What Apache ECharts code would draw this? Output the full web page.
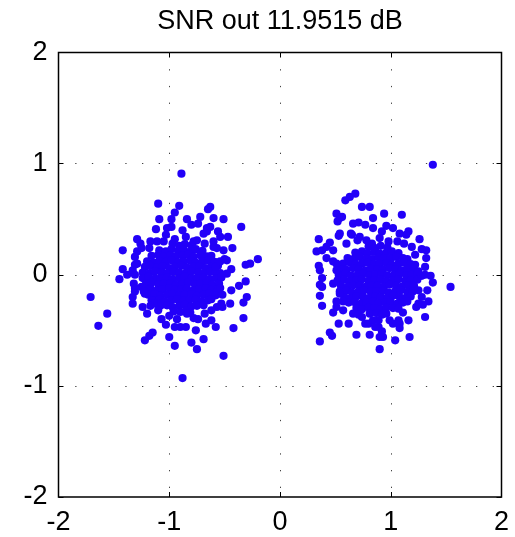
<!DOCTYPE html>
<html>
<head>
<meta charset="utf-8">
<script src="https://cdn.jsdelivr.net/npm/echarts@6/dist/echarts.min.js"></script>
<style>
  html, body { margin: 0; padding: 0; background: #fff; }
  #chart { width: 515px; height: 537px; }
</style>
</head>
<body>
<div id="chart"></div>
<script>
// Received constellation after equalisation: two symbol clouds around -1 and +1.
const titleText = 'SNR out 11.9515 dB';
const xTicks = [-2, -1, 0, 1, 2];
const yTicks = [-2, -1, 0, 1, 2];

// Dense centre of the "-1" cloud
const leftCore = [
  [-0.97,0.28],[-0.91,0.26],[-0.86,0.275],[-0.80,0.265],
  [-1.09,0.22],[-1.03,0.21],[-0.98,0.23],[-0.92,0.215],[-0.87,0.225],[-0.81,0.21],[-0.76,0.23],[-0.70,0.215],
  [-1.16,0.17],[-1.10,0.18],[-1.05,0.16],[-0.99,0.175],[-0.94,0.165],[-0.88,0.17],[-0.83,0.18],[-0.78,0.16],[-0.72,0.175],[-0.66,0.165],[-0.62,0.17],
  [-1.20,0.12],[-1.14,0.11],[-1.09,0.125],[-1.03,0.115],[-0.98,0.13],[-0.92,0.11],[-0.87,0.12],[-0.81,0.125],[-0.76,0.11],[-0.70,0.12],[-0.65,0.13],[-0.59,0.115],
  [-1.22,0.07],[-1.17,0.08],[-1.11,0.065],[-1.06,0.075],[-1.00,0.06],[-0.95,0.07],[-0.89,0.08],[-0.84,0.065],[-0.78,0.07],[-0.73,0.075],[-0.67,0.06],[-0.62,0.07],[-0.56,0.08],
  [-1.24,0.02],[-1.18,0.015],[-1.13,0.03],[-1.07,0.02],[-1.02,0.01],[-0.96,0.025],[-0.91,0.02],[-0.85,0.015],[-0.80,0.03],[-0.74,0.02],[-0.69,0.01],[-0.63,0.025],[-0.58,0.02],[-0.54,0.015],
  [-1.24,-0.03],[-1.19,-0.02],[-1.13,-0.035],[-1.08,-0.03],[-1.02,-0.025],[-0.97,-0.04],[-0.91,-0.03],[-0.86,-0.02],[-0.80,-0.035],[-0.75,-0.03],[-0.69,-0.025],[-0.64,-0.04],[-0.58,-0.03],[-0.53,-0.025],
  [-1.21,-0.08],[-1.16,-0.07],[-1.10,-0.085],[-1.05,-0.08],[-0.99,-0.075],[-0.94,-0.09],[-0.88,-0.08],[-0.83,-0.07],[-0.77,-0.085],[-0.72,-0.08],[-0.66,-0.075],[-0.61,-0.09],[-0.55,-0.08],
  [-1.22,-0.13],[-1.17,-0.125],[-1.11,-0.14],[-1.06,-0.13],[-1.00,-0.12],[-0.95,-0.135],[-0.89,-0.13],[-0.84,-0.125],[-0.78,-0.14],[-0.73,-0.13],[-0.67,-0.12],[-0.62,-0.135],[-0.56,-0.13],
  [-1.19,-0.18],[-1.13,-0.175],[-1.08,-0.19],[-1.02,-0.18],[-0.97,-0.17],[-0.91,-0.185],[-0.86,-0.18],[-0.80,-0.175],[-0.75,-0.19],[-0.69,-0.18],[-0.64,-0.17],[-0.58,-0.185],
  [-1.15,-0.23],[-1.09,-0.225],[-1.04,-0.24],[-0.98,-0.23],[-0.93,-0.22],[-0.87,-0.235],[-0.82,-0.23],[-0.76,-0.225],[-0.71,-0.24],[-0.65,-0.23],[-0.62,-0.22],
  [-1.08,-0.28],[-1.02,-0.275],[-0.97,-0.29],[-0.91,-0.28],[-0.86,-0.27],[-0.80,-0.285],[-0.75,-0.28],[-0.69,-0.275],
  [-0.96,-0.33],[-0.90,-0.335],[-0.85,-0.325],[-0.81,-0.34]
];

// Scattered samples around the "-1" cloud
const leftOuter = [
  [-0.89,0.91],[-1.10,0.64],[-0.91,0.62],[-0.63,0.61],[-0.65,0.59],[-0.95,0.56],[-1.09,0.50],[-0.98,0.50],
  [-0.84,0.50],[-0.60,0.51],[-0.51,0.50],[-0.35,0.43],[-1.12,0.41],[-1.02,0.42],[-0.80,0.45],[-0.74,0.46],
  [-0.66,0.42],[-0.56,0.39],[-0.47,0.34],[-1.29,0.32],[-1.42,0.22],[-0.43,0.24],[-0.20,0.14],[-0.31,0.09],
  [-0.27,0.10],[-0.50,0.14],[-0.44,0.05],[-1.42,0.05],[-1.45,-0.04],[-0.31,-0.06],[-0.37,-0.10],[-1.71,-0.20],
  [-1.33,-0.20],[-1.33,-0.26],[-0.30,-0.20],[-0.33,-0.25],[-0.45,-0.26],[-1.56,-0.35],[-0.33,-0.39],[-1.64,-0.46],
  [-1.24,-0.29],[-1.20,-0.35],[-0.42,-0.48],[-1.15,-0.52],[-1.18,-0.55],[-1.22,-0.59],[-1.00,-0.56],[-0.95,-0.64],
  [-0.80,-0.61],[-0.75,-0.67],[-0.69,-0.58],[-0.76,-0.50],[-0.67,-0.44],[-0.51,-0.73],[-0.88,-0.93],[-1.07,-0.40],
  [-1.03,-0.45],[-0.95,-0.47],[-0.90,-0.47],[-0.85,-0.47],[-0.68,-0.35],[-0.54,-0.12],[-0.52,-0.18],[-0.52,-0.29],
  [-1.32,-0.08],[-1.31,-0.15],[-1.25,-0.11],[-1.22,-0.17],[-1.16,-0.23],[-1.11,-0.26],[-1.31,0.16],[-1.29,0.10],
  [-1.26,0.28],[-1.17,0.30],[-1.11,0.30],[-0.68,0.28],[-0.57,0.24],[-0.51,0.22],[-0.48,0.01],[-0.53,-0.02],
  [-0.98,0.43],[-1.29,0.21],[-1.25,0.24],[-1.38,0.00],[-1.33,0.04],[-1.31,0.09],[-0.72,0.52],[-0.63,0.43],
  [-0.66,0.39],[-0.69,0.37],[-0.54,0.34],[-0.78,0.30],[-0.60,0.25],[-0.48,0.13],[-0.58,0.07],[-0.54,0.12],
  [-1.31,0.00],[-1.31,-0.12],[-1.23,-0.15],[-1.14,-0.26],[-1.10,-0.32],[-0.44,-0.14],[-0.53,-0.26],[-0.57,-0.29],
  [-0.78,-0.39],[-0.84,-0.35],[-0.95,0.32],[-0.85,0.34],[-1.05,0.30],[-0.75,0.31],[-1.00,-0.37],[-0.93,-0.40],
  [-0.74,-0.40],[-0.62,-0.32],[-1.17,-0.28],[-0.60,0.30],[-1.18,0.24],[-0.88,0.40],[-1.03,0.36],[-0.62,-0.41],
  [-0.58,-0.47]
];

// Dense centre of the "+1" cloud
const rightCore = [
  [0.80,0.255],[0.86,0.24],[0.91,0.26],[0.97,0.245],
  [0.68,0.20],[0.74,0.21],[0.79,0.195],[0.85,0.205],[0.90,0.19],[0.96,0.20],[1.01,0.21],[1.07,0.195],
  [0.61,0.15],[0.67,0.145],[0.72,0.16],[0.78,0.15],[0.83,0.14],[0.89,0.155],[0.94,0.15],[1.00,0.145],[1.05,0.16],[1.11,0.15],[1.15,0.14],
  [0.57,0.10],[0.63,0.11],[0.68,0.095],[0.74,0.10],[0.79,0.11],[0.85,0.095],[0.90,0.10],[0.96,0.105],[1.01,0.09],[1.07,0.10],[1.12,0.11],[1.18,0.095],
  [0.55,0.05],[0.60,0.045],[0.66,0.06],[0.71,0.05],[0.77,0.04],[0.82,0.055],[0.88,0.05],[0.93,0.045],[0.99,0.06],[1.04,0.05],[1.10,0.04],[1.15,0.055],[1.21,0.05],
  [0.53,0.00],[0.59,0.01],[0.64,-0.005],[0.70,0.00],[0.75,0.01],[0.81,-0.005],[0.86,0.00],[0.92,0.01],[0.97,-0.005],[1.03,0.00],[1.08,0.01],[1.14,-0.005],[1.19,0.00],[1.24,0.01],
  [0.52,-0.05],[0.58,-0.045],[0.63,-0.06],[0.69,-0.05],[0.74,-0.04],[0.80,-0.055],[0.85,-0.05],[0.91,-0.045],[0.96,-0.06],[1.02,-0.05],[1.07,-0.04],[1.13,-0.055],[1.18,-0.05],[1.24,-0.045],
  [0.55,-0.10],[0.61,-0.11],[0.66,-0.095],[0.72,-0.10],[0.77,-0.11],[0.83,-0.095],[0.88,-0.10],[0.94,-0.105],[0.99,-0.09],[1.05,-0.10],[1.10,-0.11],[1.16,-0.095],[1.21,-0.10],
  [0.54,-0.15],[0.60,-0.145],[0.65,-0.16],[0.71,-0.15],[0.76,-0.14],[0.82,-0.155],[0.87,-0.15],[0.93,-0.145],[0.98,-0.16],[1.04,-0.15],[1.09,-0.14],[1.15,-0.155],[1.20,-0.15],
  [0.58,-0.20],[0.64,-0.21],[0.69,-0.195],[0.75,-0.20],[0.80,-0.21],[0.86,-0.195],[0.91,-0.20],[0.97,-0.205],[1.02,-0.19],[1.08,-0.20],[1.13,-0.21],[1.18,-0.195],
  [0.62,-0.25],[0.67,-0.245],[0.73,-0.26],[0.78,-0.25],[0.84,-0.24],[0.89,-0.255],[0.95,-0.25],[1.00,-0.245],[1.06,-0.26],[1.11,-0.25],[1.15,-0.24],
  [0.69,-0.30],[0.74,-0.31],[0.80,-0.295],[0.85,-0.30],[0.91,-0.31],[0.96,-0.295],[1.02,-0.30],[1.07,-0.305],
  [0.81,-0.35],[0.87,-0.345],[0.92,-0.36],[0.96,-0.35]
];

// Scattered samples around the "+1" cloud
const rightOuter = [
  [1.38,0.99],[0.68,0.73],[0.63,0.70],[0.59,0.67],[0.74,0.61],[0.81,0.61],[0.51,0.55],[0.54,0.51],
  [0.52,0.48],[0.94,0.55],[1.10,0.54],[0.84,0.51],[0.66,0.46],[0.71,0.47],[0.77,0.45],[0.96,0.44],
  [1.02,0.42],[1.16,0.39],[1.14,0.36],[0.35,0.32],[1.26,0.32],[0.45,0.29],[0.53,0.35],[0.33,0.21],
  [0.38,0.22],[1.32,0.22],[1.32,0.15],[1.19,0.25],[1.22,0.18],[0.35,0.08],[0.42,0.15],[1.31,0.07],
  [1.36,-0.01],[1.38,-0.07],[1.54,-0.11],[0.38,-0.03],[0.38,-0.11],[0.36,-0.19],[0.38,-0.28],[0.48,-0.34],
  [0.51,-0.29],[1.31,-0.38],[1.34,-0.24],[1.29,-0.27],[1.23,-0.29],[0.53,-0.44],[0.62,-0.44],[0.66,-0.35],
  [0.71,-0.36],[0.36,-0.60],[0.45,-0.52],[0.47,-0.55],[0.69,-0.54],[0.81,-0.54],[0.90,-0.67],[0.89,-0.47],
  [0.92,-0.51],[0.93,-0.56],[1.04,-0.59],[1.17,-0.56],[1.11,-0.34],[1.16,-0.41],[1.02,-0.44],[1.08,-0.44],
  [0.80,-0.44],[0.84,-0.41],[1.22,0.09],[1.28,-0.01],[1.25,-0.14],[1.28,-0.20],[0.51,0.10],[0.48,-0.08],
  [0.54,-0.17],[0.42,0.25],[0.48,0.22],[0.65,0.36],[0.72,0.34],[0.84,0.42],[0.92,0.39],[1.08,0.37],
  [0.56,0.52],[0.64,0.37],[0.54,0.37],[0.48,0.12],[0.51,0.04],[0.83,0.28],[0.78,0.31],[1.28,0.23],
  [1.31,0.00],[1.25,0.03],[0.36,-0.09],[0.36,0.04],[0.51,-0.24],[0.57,-0.24],[0.57,-0.32],[0.74,-0.38],
  [0.77,-0.44],[0.86,-0.47],[0.89,-0.41],[1.33,-0.14],[1.25,-0.26],[1.08,-0.48],[0.90,-0.56],[0.99,-0.41],
  [1.07,-0.41],[0.70,0.31],[0.90,0.33],[0.98,0.30],[1.06,0.30],[0.60,0.28],[1.12,0.28]
];

const samples = [].concat(leftCore, leftOuter, rightCore, rightOuter);

const chart = echarts.init(document.getElementById('chart'), null, { renderer: 'canvas' });

const font = 'Liberation Sans, Arial, Helvetica, sans-serif';
const tickStyle = { show: true, inside: true, length: 5, lineStyle: { color: '#000', width: 1 } };
const gridDots = { show: true, showMinLine: false, showMaxLine: false,
  lineStyle: { color: '#444', width: 1, type: [1.3, 15.4] } };

function mainAxis(pos, ticks) {
  return {
    type: 'value', position: pos, min: ticks[0], max: ticks[ticks.length - 1], interval: 1,
    axisLine: { show: false, onZero: false },
    axisTick: tickStyle,
    axisLabel: { show: true, color: '#000', fontSize: 27, fontFamily: font,
                 margin: pos === 'bottom' ? 12 : 11 },
    splitLine: gridDots
  };
}
function mirrorAxis(pos, ticks) {
  return {
    type: 'value', position: pos, min: ticks[0], max: ticks[ticks.length - 1], interval: 1,
    axisLine: { show: false, onZero: false }, axisTick: tickStyle,
    axisLabel: { show: false }, splitLine: { show: false }
  };
}

chart.setOption({
  animation: false,
  backgroundColor: '#fff',
  title: {
    text: titleText, left: 280, top: 8, textAlign: 'center', padding: 0,
    textStyle: { fontFamily: font, fontSize: 27, fontWeight: 'normal', color: '#000' }
  },
  grid: {
    left: 58.5, right: 13.5, top: 52.5, bottom: 40,
    show: true, borderColor: '#000', borderWidth: 1.5, backgroundColor: '#fff'
  },
  xAxis: [mainAxis('bottom', xTicks), mirrorAxis('top', xTicks)],
  yAxis: [mainAxis('left', yTicks), mirrorAxis('right', yTicks)],
  series: [{
    type: 'scatter',
    xAxisIndex: 0, yAxisIndex: 0,
    data: samples,
    symbol: 'circle',
    symbolSize: 8.2,
    itemStyle: { color: '#2200f8', opacity: 1 },
    silent: true
  }]
});
</script>
</body>
</html>
